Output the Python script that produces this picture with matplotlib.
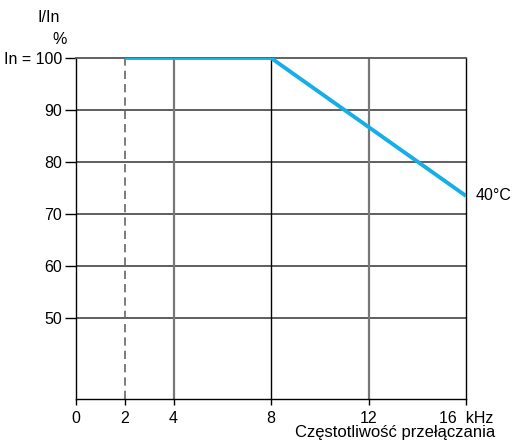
import matplotlib.pyplot as plt

plt.rcParams['font.family'] = ['Liberation Sans', 'DejaVu Sans']

freq = [2, 8, 16]
current = [100, 100, 73.5]
x_ticks = [0, 2, 4, 8, 12, 16]
x_labels = ['0', '2', '4', '8', '12', '16  kHz']
y_ticks = [50, 60, 70, 80, 90, 100]
y_labels = ['50', '60', '70', '80', '90', 'In = 100']

fig = plt.figure(figsize=(5.15, 4.44), dpi=100)
ax = fig.add_axes([0.1476, 0.1014, 0.7573, 0.768])
ax.set_xlim(0, 16)
ax.set_ylim(34.5, 100)

# grid
for y in [50, 60, 70, 80, 90]:
    ax.axhline(y, color='#333333', lw=1.1, zorder=1)
for x in [4, 12]:
    ax.axvline(x, color='#777777', lw=1.6, zorder=1)
ax.axvline(8, color='black', lw=1.0, zorder=1)
ax.axvline(2, color='#666666', lw=1.2, ls=(0, (5, 3)), zorder=1)

ax.plot(freq, current, color='#16aee6', lw=2.8, zorder=3, solid_capstyle='butt')

for s in ['left', 'bottom', 'right']:
    ax.spines[s].set_color('black')
    ax.spines[s].set_linewidth(1.0)
ax.spines['top'].set_color('#555555')
ax.spines['top'].set_linewidth(1.3)

ax.set_xticks(x_ticks)
ax.set_xticklabels(x_labels, fontsize=11.5)
ax.set_yticks(y_ticks)
ax.set_yticklabels(y_labels, fontsize=11.5)
ax.tick_params(axis='y', length=8, width=1.0, pad=2)
ax.tick_params(axis='x', length=4, width=1.0, pad=5)

fig.text(0.072, 0.96, 'I/In', fontsize=11.5, ha='left', va='center')
fig.text(0.101, 0.91, '%', fontsize=11.5, ha='left', va='center')
fig.text(0.962, 0.025, 'Częstotliwość przełączania', fontsize=12, ha='right', va='center')
ax.text(16.4, current[-1], '40°C', fontsize=11.5, ha='left', va='center')

plt.savefig('out.png', dpi=100)
